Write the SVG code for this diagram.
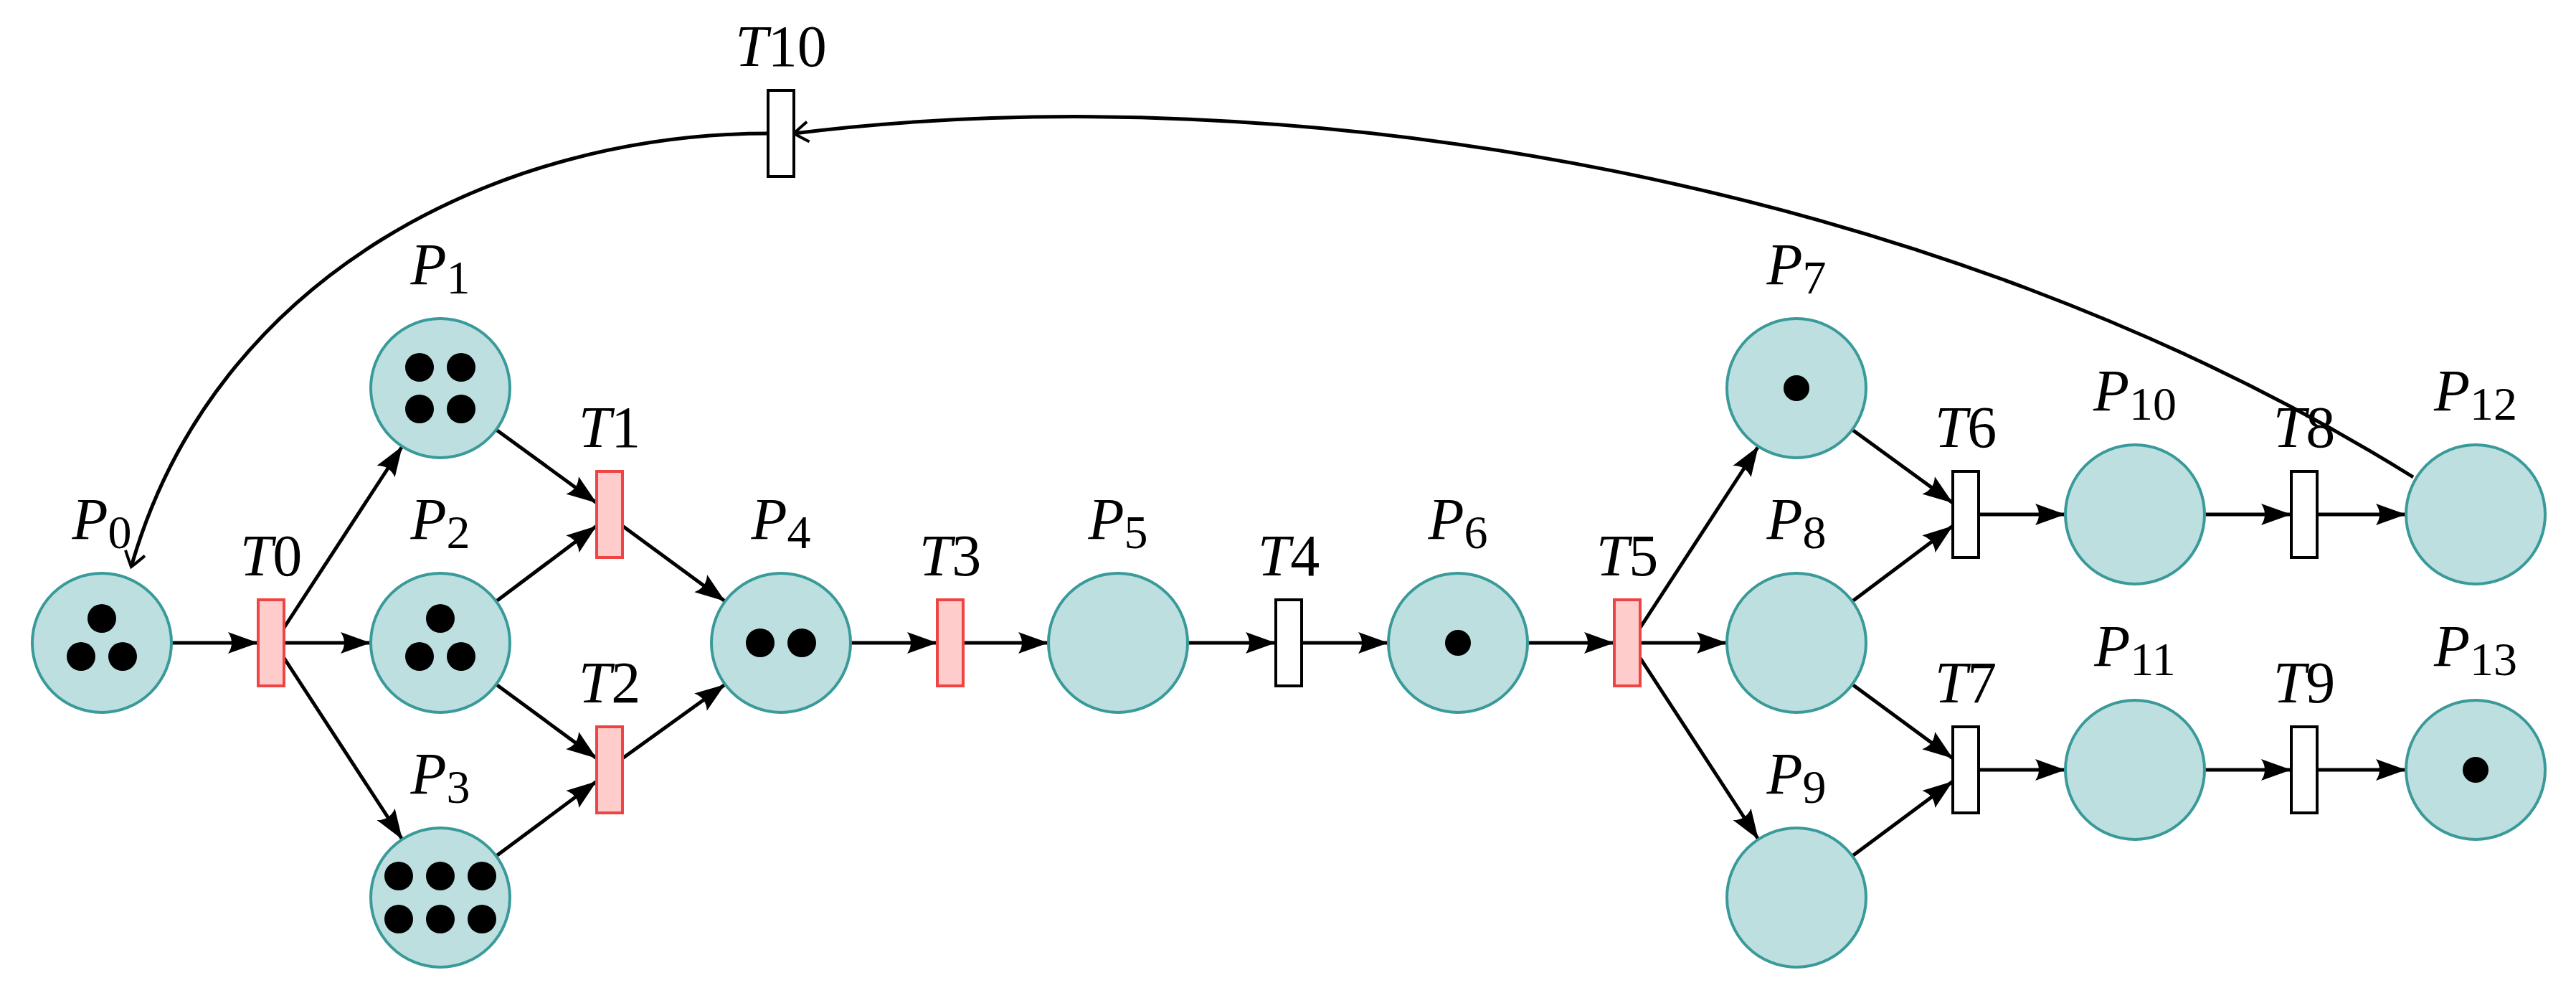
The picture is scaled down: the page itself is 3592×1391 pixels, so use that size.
<svg xmlns="http://www.w3.org/2000/svg" width="3592" height="1391" viewBox="0 0 3592 1391">
<style>
.pl{fill:#bddfdf;stroke:#3a9a9a;stroke-width:4}
.tr{fill:#ffcccc;stroke:#ee4444;stroke-width:4}
.tw{fill:#ffffff;stroke:#000;stroke-width:4}
.tk{fill:#000}
.lb{font-family:"Liberation Serif",serif;font-size:82px;text-anchor:middle;fill:#000}
.it{font-style:italic}
.sb{font-size:66px}
.e{stroke:#000;stroke-width:5;fill:none;marker-end:url(#ah)}
.c{stroke:#000;stroke-width:5;fill:none;marker-end:url(#oh)}
</style>
<defs>
<marker id="ah" markerUnits="userSpaceOnUse" viewBox="-44 -17 46 34" refX="0" refY="0" markerWidth="46" markerHeight="34" orient="auto">
<path d="M0,0 L-42,-15 Q-32,0 -42,15 Z" fill="#000"/>
</marker>
<marker id="oh" markerUnits="userSpaceOnUse" viewBox="-24 -18 28 36" refX="0" refY="0" markerWidth="28" markerHeight="36" orient="auto">
<path d="M-20,-14 Q-8,-6 0,0 Q-8,6 -20,14" fill="none" stroke="#000" stroke-width="4"/>
</marker>
</defs>
<g id="connectors">
<path class="e" d="M239,896 L360,896"/>
<path class="e" d="M396,875 L561,622"/>
<path class="e" d="M396,896 L517,896"/>
<path class="e" d="M396,917 L561,1170"/>
<path class="e" d="M692,599 L832,701"/>
<path class="e" d="M692,838 L832,733"/>
<path class="e" d="M692,954 L832,1057"/>
<path class="e" d="M692,1193 L832,1089"/>
<path class="e" d="M868,733 L1011,838"/>
<path class="e" d="M868,1057 L1011,954"/>
<path class="e" d="M1186,896 L1307,896"/>
<path class="e" d="M1343,896 L1462,896"/>
<path class="e" d="M1656,896 L1779,896"/>
<path class="e" d="M1815,896 L1936,896"/>
<path class="e" d="M2130,896 L2251,896"/>
<path class="e" d="M2287,875 L2452,622"/>
<path class="e" d="M2287,896 L2408,896"/>
<path class="e" d="M2287,917 L2452,1170"/>
<path class="e" d="M2583,599 L2723,701"/>
<path class="e" d="M2583,838 L2723,733"/>
<path class="e" d="M2583,954 L2723,1057"/>
<path class="e" d="M2583,1193 L2723,1089"/>
<path class="e" d="M2759,717 L2880,717"/>
<path class="e" d="M2759,1073 L2880,1073"/>
<path class="e" d="M3074,717 L3195,717"/>
<path class="e" d="M3231,717 L3355,717"/>
<path class="e" d="M3074,1073 L3195,1073"/>
<path class="e" d="M3231,1073 L3355,1073"/>
<path class="c" d="M3365,665 C2700,250 1800,100 1107,186"/>
<path class="c" d="M1071,186 C700,186 300,380 183,790"/>
</g>
<g id="P0"><circle class="pl" cx="142" cy="896" r="97"/><circle class="tk" cx="142" cy="862" r="20"/><circle class="tk" cx="113" cy="915" r="20"/><circle class="tk" cx="171" cy="915" r="20"/><text class="lb" x="142" y="751"><tspan class="it">P</tspan><tspan class="sb" dy="13">0</tspan></text></g>
<g id="P1"><circle class="pl" cx="614" cy="541" r="97"/><circle class="tk" cx="585" cy="512" r="20"/><circle class="tk" cx="643" cy="512" r="20"/><circle class="tk" cx="585" cy="570" r="20"/><circle class="tk" cx="643" cy="570" r="20"/><text class="lb" x="614" y="396"><tspan class="it">P</tspan><tspan class="sb" dy="13">1</tspan></text></g>
<g id="P2"><circle class="pl" cx="614" cy="896" r="97"/><circle class="tk" cx="614" cy="862" r="20"/><circle class="tk" cx="585" cy="915" r="20"/><circle class="tk" cx="643" cy="915" r="20"/><text class="lb" x="614" y="751"><tspan class="it">P</tspan><tspan class="sb" dy="13">2</tspan></text></g>
<g id="P3"><circle class="pl" cx="614" cy="1251" r="97"/><circle class="tk" cx="556" cy="1221" r="20"/><circle class="tk" cx="614" cy="1221" r="20"/><circle class="tk" cx="672" cy="1221" r="20"/><circle class="tk" cx="556" cy="1281" r="20"/><circle class="tk" cx="614" cy="1281" r="20"/><circle class="tk" cx="672" cy="1281" r="20"/><text class="lb" x="614" y="1106"><tspan class="it">P</tspan><tspan class="sb" dy="13">3</tspan></text></g>
<g id="P4"><circle class="pl" cx="1089" cy="896" r="97"/><circle class="tk" cx="1060" cy="896" r="20"/><circle class="tk" cx="1118" cy="896" r="20"/><text class="lb" x="1089" y="751"><tspan class="it">P</tspan><tspan class="sb" dy="13">4</tspan></text></g>
<g id="P5"><circle class="pl" cx="1559" cy="896" r="97"/><text class="lb" x="1559" y="751"><tspan class="it">P</tspan><tspan class="sb" dy="13">5</tspan></text></g>
<g id="P6"><circle class="pl" cx="2033" cy="896" r="97"/><circle class="tk" cx="2033" cy="896" r="18"/><text class="lb" x="2033" y="751"><tspan class="it">P</tspan><tspan class="sb" dy="13">6</tspan></text></g>
<g id="P7"><circle class="pl" cx="2505" cy="541" r="97"/><circle class="tk" cx="2505" cy="541" r="18"/><text class="lb" x="2505" y="396"><tspan class="it">P</tspan><tspan class="sb" dy="13">7</tspan></text></g>
<g id="P8"><circle class="pl" cx="2505" cy="896" r="97"/><text class="lb" x="2505" y="751"><tspan class="it">P</tspan><tspan class="sb" dy="13">8</tspan></text></g>
<g id="P9"><circle class="pl" cx="2505" cy="1251" r="97"/><text class="lb" x="2505" y="1106"><tspan class="it">P</tspan><tspan class="sb" dy="13">9</tspan></text></g>
<g id="P10"><circle class="pl" cx="2977" cy="717" r="97"/><text class="lb" x="2977" y="572"><tspan class="it">P</tspan><tspan class="sb" dy="13">10</tspan></text></g>
<g id="P11"><circle class="pl" cx="2977" cy="1073" r="97"/><text class="lb" x="2977" y="928"><tspan class="it">P</tspan><tspan class="sb" dy="13">11</tspan></text></g>
<g id="P12"><circle class="pl" cx="3452" cy="717" r="97"/><text class="lb" x="3452" y="572"><tspan class="it">P</tspan><tspan class="sb" dy="13">12</tspan></text></g>
<g id="P13"><circle class="pl" cx="3452" cy="1073" r="97"/><circle class="tk" cx="3452" cy="1073" r="18"/><text class="lb" x="3452" y="928"><tspan class="it">P</tspan><tspan class="sb" dy="13">13</tspan></text></g>
<g id="T0"><rect class="tr" x="360" y="836" width="36" height="120"/><text class="lb" x="378" y="802"><tspan class="it">T</tspan>0</text></g>
<g id="T1"><rect class="tr" x="832" y="657" width="36" height="120"/><text class="lb" x="850" y="623"><tspan class="it">T</tspan>1</text></g>
<g id="T2"><rect class="tr" x="832" y="1013" width="36" height="120"/><text class="lb" x="850" y="979"><tspan class="it">T</tspan>2</text></g>
<g id="T3"><rect class="tr" x="1307" y="836" width="36" height="120"/><text class="lb" x="1325" y="802"><tspan class="it">T</tspan>3</text></g>
<g id="T4"><rect class="tw" x="1779" y="836" width="36" height="120"/><text class="lb" x="1797" y="802"><tspan class="it">T</tspan>4</text></g>
<g id="T5"><rect class="tr" x="2251" y="836" width="36" height="120"/><text class="lb" x="2269" y="802"><tspan class="it">T</tspan>5</text></g>
<g id="T6"><rect class="tw" x="2723" y="657" width="36" height="120"/><text class="lb" x="2741" y="623"><tspan class="it">T</tspan>6</text></g>
<g id="T7"><rect class="tw" x="2723" y="1013" width="36" height="120"/><text class="lb" x="2741" y="979"><tspan class="it">T</tspan>7</text></g>
<g id="T8"><rect class="tw" x="3195" y="657" width="36" height="120"/><text class="lb" x="3213" y="623"><tspan class="it">T</tspan>8</text></g>
<g id="T9"><rect class="tw" x="3195" y="1013" width="36" height="120"/><text class="lb" x="3213" y="979"><tspan class="it">T</tspan>9</text></g>
<g id="T10"><rect class="tw" x="1071" y="126" width="36" height="120"/><text class="lb" x="1089" y="92"><tspan class="it">T</tspan>10</text></g>
</svg>
